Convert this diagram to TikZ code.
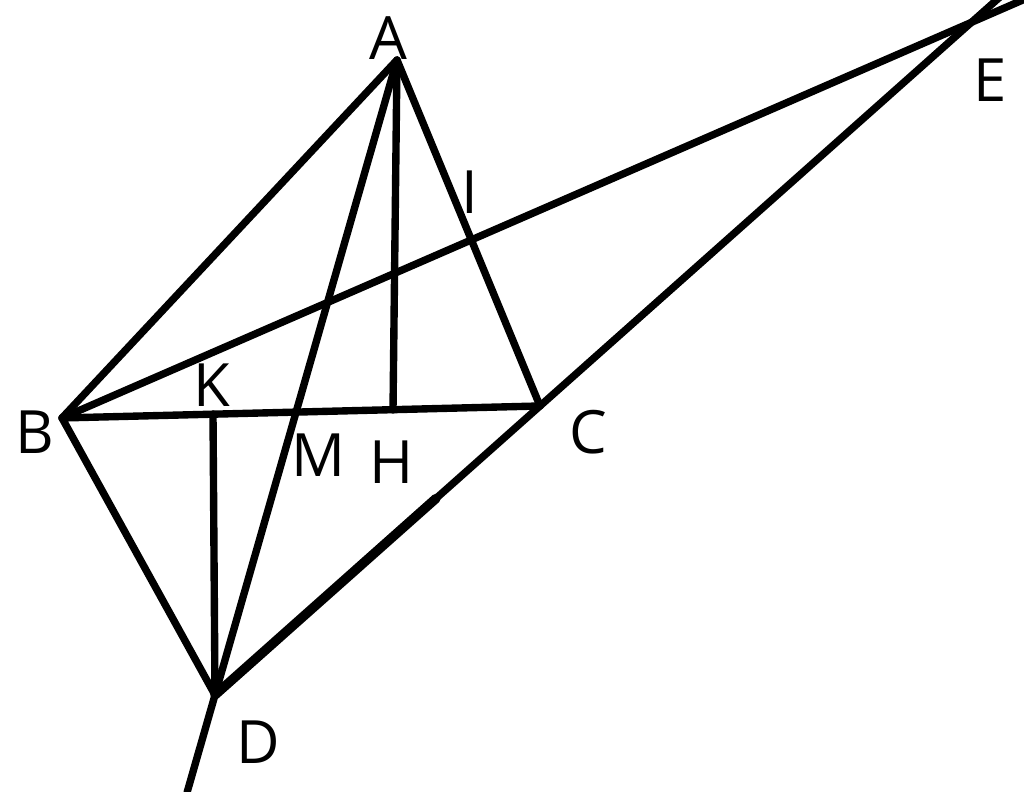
\documentclass[tikz,border=0pt]{standalone}
\usepackage{fontspec}
\setmainfont{Open Sans}
\usetikzlibrary{calc}
\tikzset{
    every picture/.style={line width=2.1pt},
    ptlabel/.style={font=\fontsize{17}{20}\selectfont,inner sep=0pt}
}
\begin{document}
\begin{tikzpicture}[line join=round,line cap=round]
    \useasboundingbox (0,0) rectangle (10.24,7.92);
    \clip (0,0) rectangle (10.24,7.92);

    % the points
    \coordinate (A) at (3.97,7.32);
    \coordinate (B) at (0.62,3.74);
    \coordinate (C) at (5.40,3.86);
    \coordinate (D) at (2.15,0.97);
    \coordinate (H) at (3.93,3.82);
    \coordinate (K) at (2.13,3.78);
    \coordinate (I) at ($(A)!0.52!(C)$);
    \coordinate (M) at (intersection of A--D and B--C);
    \coordinate (E) at (intersection of B--I and D--C);
    \coordinate (endD) at ($(A)!1.153!(D)$);
    \coordinate (endBE) at ($(B)!1.1!(E)$);
    \coordinate (endDE) at ($(D)!1.1!(E)$);

    % the lines
    \draw (A) -- (B) -- (D) -- (C) -- cycle;
    \draw (B) -- (C);
    \draw (A) -- (H);
    \draw (K) -- (D);
    \draw (A) -- (M) -- (D) -- (endD);
    \draw (B) -- (I) -- (E) -- (endBE);
    \draw (C) -- (E) -- (endDE);
    \draw[line width=2.7pt] (D) -- ($(D)!0.68!(C)$);

    % the labels
    \node[ptlabel] (labA) at (3.88,7.54) {A};
    \node[ptlabel] (labI) at (4.70,6.00) {I};
    \node[ptlabel] (labE) at (9.90,7.12) {E};
    \node[ptlabel] (labB) at (0.35,3.60) {B};
    \node[ptlabel] (labK) at (2.12,4.07) {K};
    \node[ptlabel] (labM) at (3.18,3.37) {M};
    \node[ptlabel] (labH) at (3.92,3.30) {H};
    \node[ptlabel] (labC) at (5.88,3.60) {C};
    \node[ptlabel] (labD) at (2.58,0.50) {D};
\end{tikzpicture}
\end{document}
